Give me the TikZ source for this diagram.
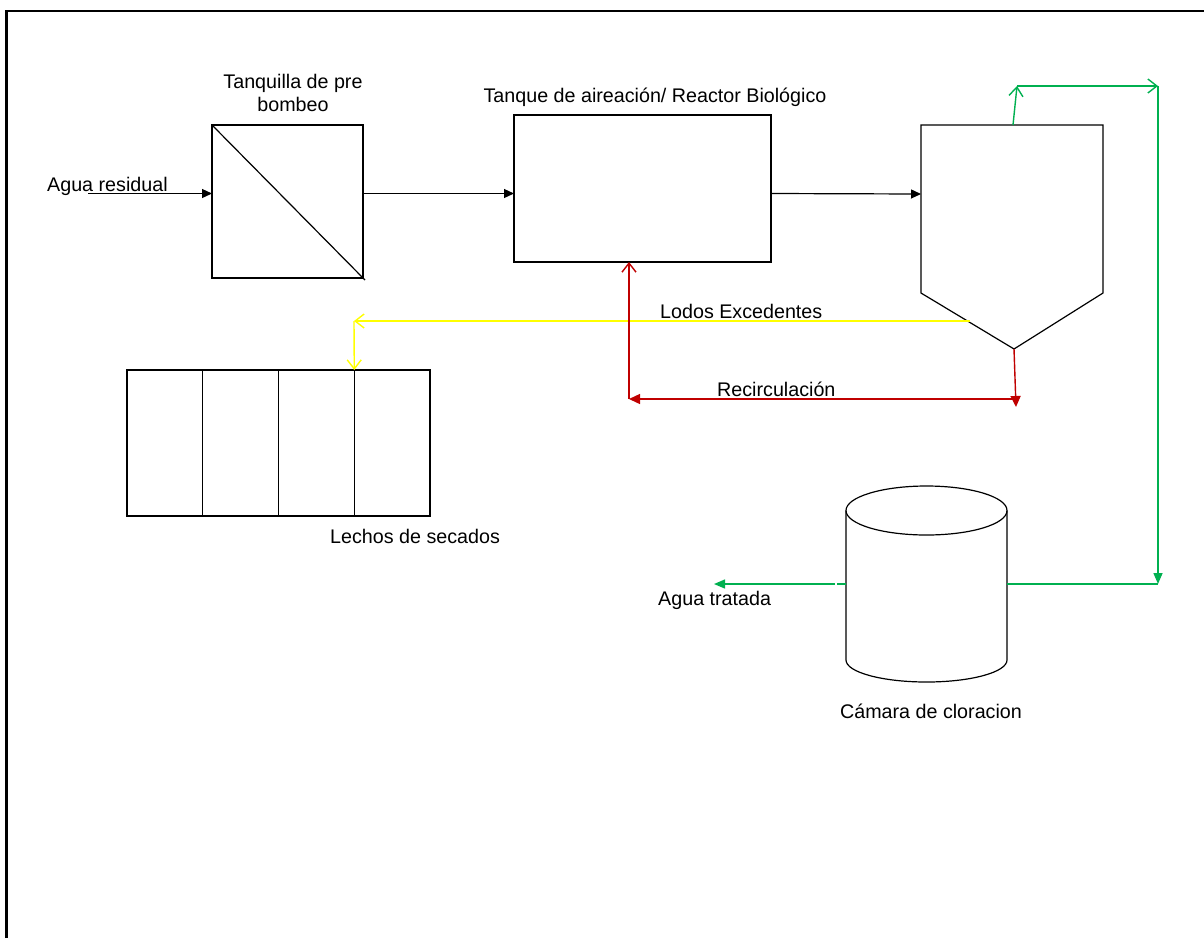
\documentclass[tikz,border=0pt]{standalone}
\usepackage{fontspec}
\setmainfont{Liberation Sans}
\usetikzlibrary{positioning,arrows.meta,calc}
\definecolor{flowgreen}{HTML}{00B050}
\definecolor{sludge}{HTML}{FFFF00}
\definecolor{recirc}{HTML}{C00000}

\tikzset{
  unit/.style={draw,line width=1.2pt,inner sep=0pt,outer sep=0pt},
  bed/.style={unit,minimum width=75.75pt,minimum height=146pt},
  flow/.style={line width=1.2pt,-{Triangle[length=10pt,width=9pt]}},
  barb/.style={-{Straight Barb[length=9pt,width=14pt,line width=1.4pt]}},
  lbl/.style={inner sep=0pt}
}

\begin{document}
\begin{tikzpicture}[x=1pt,y=-1pt,font=\fontsize{19.7}{23}\selectfont]
  \useasboundingbox (0,0) rectangle (1204,938);
  % frame
  \draw[line width=2.5pt] (6.5,938) -- (6.5,11) -- (1204,11);

  % units
  \node[unit,minimum width=151pt,minimum height=153pt] (pre) at (287.5,201.5) {};
  \draw[line width=1.2pt] (pre.north west) -- ($(pre.south east)+(2,2)$);
  \node[lbl,align=center,anchor=north] (prelbl) at (293,74) {Tanquilla de pre\\bombeo};

  \node[unit,minimum width=257pt,minimum height=147pt] (tank) at (642.5,188.5) {};
  \node[lbl,anchor=base] (tanklbl) at (655,102) {Tanque de aireación/ Reactor Biológico};

  % clarifier
  \coordinate (ctl) at (921,125);
  \coordinate (ctr) at (1103,125);
  \coordinate (cbot) at (1014,349);
  \draw[line width=1.2pt] (ctl) -- (ctr) -- (1103,293) -- (cbot) -- (921,293) -- cycle;
  \coordinate (cin) at (921,194);

  % drying beds
  \node[bed] (bed1) at (164.9,443) {};
  \node[bed,right=0pt of bed1] (bed2) {};
  \node[bed,right=0pt of bed2] (bed3) {};
  \node[bed,right=0pt of bed3] (bed4) {};
  \node[lbl,anchor=base west] (bedlbl) at (330,543) {Lechos de secados};

  % chlorination chamber
  \coordinate (cyl) at (926.5,510.5);
  \draw[line width=1.2pt] (cyl) ellipse [x radius=80.5,y radius=24.5];
  \draw[line width=1.2pt] (846,510.5) -- (846,660) arc[start angle=180,end angle=0,x radius=80.5,y radius=22] -- (1007,510.5);
  \coordinate (cyleast) at (1007,584);
  \coordinate (cylwest) at (846,584);
  \node[lbl,anchor=base] (cyllbl) at (931,718) {Cámara de cloracion};

  % main line
  \node[lbl,anchor=base west] (inlbl) at (47,191) {Agua residual};
  \coordinate (inflow) at (88,193.5);
  \draw[flow] (inflow) -- (pre.west |- inflow);
  \draw[flow] (pre.east |- inflow) -- (tank.west |- inflow);
  \draw[flow] (tank.east |- inflow) -- (cin);

  % clarified water
  \coordinate (g1) at (1017,86);
  \coordinate (g2) at (1158,86);
  \coordinate (g3) at (1158,584);
  \draw[flowgreen,line width=1.4pt,barb] (1013,125) -- (g1);
  \draw[flowgreen,line width=1.4pt,barb] (g1) -- (g2);
  \draw[flowgreen,line width=1.4pt,-{Triangle[length=11pt,width=9pt]}] (g2) -- (g3);
  \draw[flowgreen,line width=1.4pt] (cyleast) -- (g3);
  \coordinate (outflow) at (714,584);
  \draw[flowgreen,line width=1.4pt] (cylwest) -- ++(-9,0);
  \draw[flowgreen,line width=1.4pt,-{Triangle[length=11pt,width=9pt]}] ($(cylwest)+(-11,0)$) -- (outflow);
  \node[lbl,anchor=base west] (outlbl) at (658,605) {Agua tratada};

  % excess sludge
  \coordinate (y1) at (970,321);
  \coordinate (y2) at (354,321);
  \draw[sludge,line width=1.4pt,barb] (y1) -- (y2);
  \draw[sludge,line width=1.4pt,barb] (y2) -- (bed4.north west);
  \node[lbl,anchor=base west] (sludgelbl) at (660,318) {Lodos Excedentes};

  % recirculation
  \coordinate (r1) at (1016,407);
  \coordinate (r2) at (1016,399);
  \coordinate (r3) at (629,399);
  \draw[recirc,line width=1.4pt,-{Triangle[length=11pt,width=10pt]}] (cbot) -- (r1);
  \draw[recirc,line width=1.4pt,-{Triangle[length=11pt,width=10pt]}] (r2) -- (r3);
  \draw[recirc,line width=1.4pt,barb] (r3) -- (tank.south -| r3);
  \node[lbl,anchor=base west] (recirclbl) at (717,396) {Recirculación};
\end{tikzpicture}
\end{document}
